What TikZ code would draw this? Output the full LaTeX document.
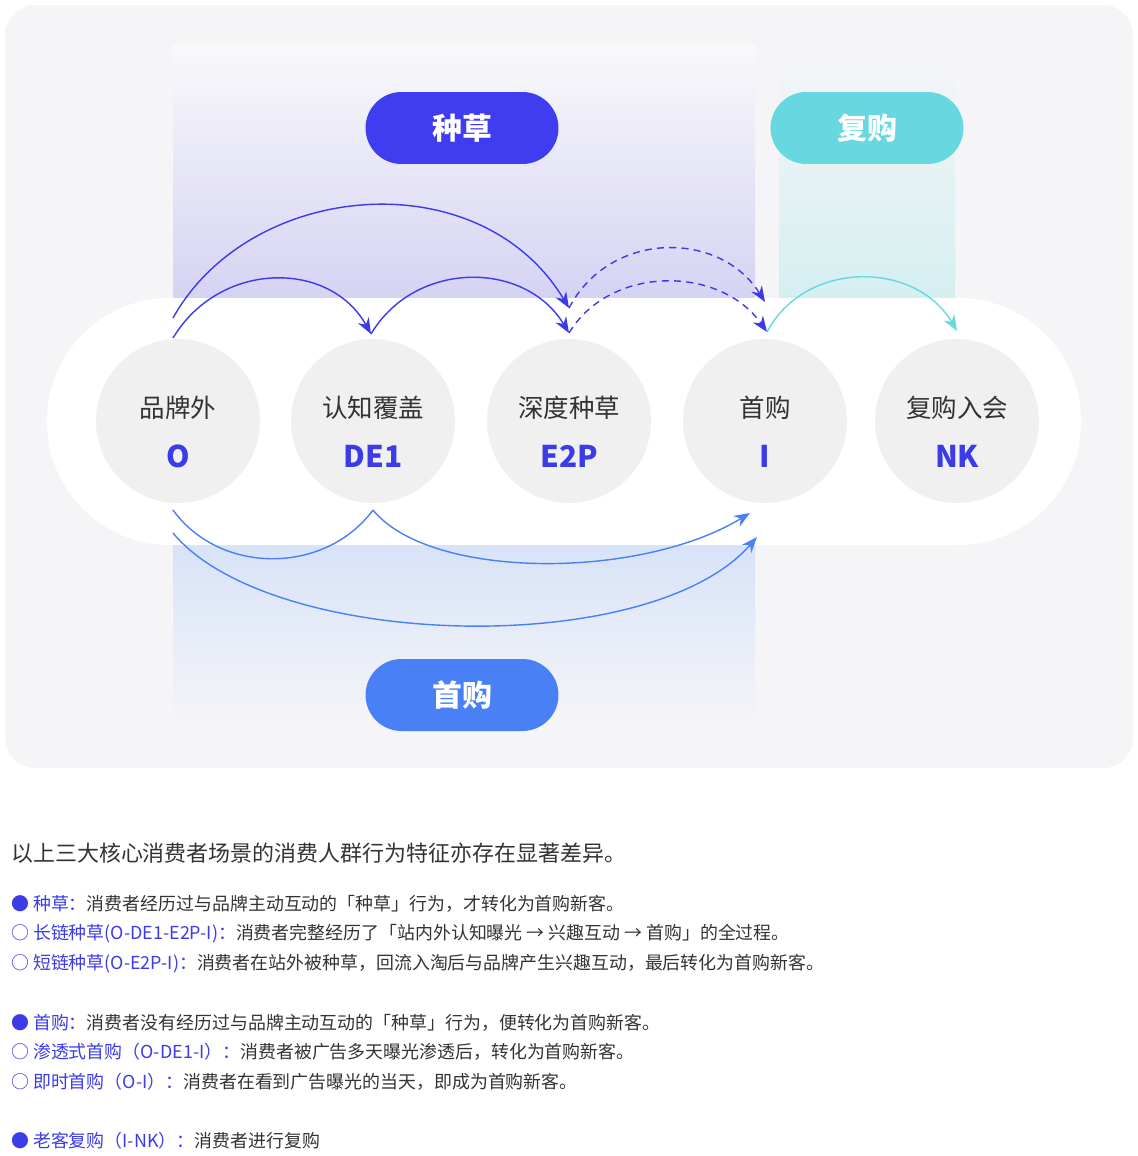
\documentclass[tikz,border=0pt]{standalone}
\usepackage{fontspec}
\setmainfont{Noto Sans CJK SC}
\usetikzlibrary{positioning, arrows.meta}
\definecolor{panelgrey}{HTML}{F5F5F7}
\definecolor{stagegrey}{HTML}{F0F0F0}
\definecolor{seedblue}{HTML}{3F3DEF}
\definecolor{buyblue}{HTML}{4A80F5}
\definecolor{rebuyteal}{HTML}{67D8E0}
\definecolor{codeblue}{HTML}{3B3BE8}
\definecolor{bodytext}{HTML}{333333}
\begin{document}
\begin{tikzpicture}[
    x=0.02cm, y=-0.02cm, >={Stealth[length=9pt,width=7pt]},
    % stage circles
    stage/.style={circle, fill=stagegrey, minimum size=3.28cm, inner sep=0pt},
    stage name/.style={font=\fontsize{14.5}{16}\selectfont, text=bodytext},
    stage code/.style={font=\fontsize{17}{18}\selectfont\bfseries, text=codeblue},
    % phase pills
    phase pill/.style={rounded corners=0.72cm, minimum width=3.86cm, minimum height=1.44cm,
        text=white, font=\fontsize{17}{18}\selectfont\bfseries},
    % arcs
    seed arc/.style={->, draw=codeblue, line width=0.8pt},
    seed dash/.style={seed arc, dash pattern=on 4pt off 3pt},
    buy arc/.style={->, draw=buyblue, line width=0.8pt},
    rebuy arc/.style={->, draw=rebuyteal, line width=0.8pt},
    % legend text
    intro/.style={anchor=west, font=\fontsize{12.5}{14}\selectfont, text=bodytext},
    legend/.style={anchor=west, font=\fontsize{10.2}{12}\selectfont, text=bodytext},
    key/.style={text=codeblue}
]
\useasboundingbox (0,0) rectangle (1138,1156);

% panel and bands
\fill[panelgrey, rounded corners=0.6cm] (5,5) rectangle (1133,768);
\shade[top color=panelgrey!60!white, bottom color={rgb,255:red,213;green,211;blue,243}] (173,45) rectangle (755,298);
\shade[top color=panelgrey, bottom color={rgb,255:red,213;green,239;blue,240}] (779,55) rectangle (955,298);
\shade[top color={rgb,255:red,216;green,227;blue,248}, bottom color=panelgrey] (173,545) rectangle (755,725);
\fill[white, rounded corners=2.46cm] (47,298) rectangle (1081,545);

% stages
\foreach \n/\x/\name/\code in {o/178/品牌外/O, de/373/认知覆盖/DE1, ep/569/深度种草/E2P, i/765/首购/I, nk/957/复购入会/NK}
{
    \node[stage] (\n) at (\x,421) {};
    \node[stage name] (\n-name) at (\x,408) {\name};
    \node[stage code] (\n-code) at (\x,456) {\code};
}

% phase pills
\node[phase pill, fill=seedblue] (seed) at (462,128) {种草};
\node[phase pill, fill=rebuyteal] (rebuy) at (867,128) {复购};
\node[phase pill, fill=buyblue] (buy) at (462,695) {首购};

% arc ends
\coordinate (o-top1) at (173,318);
\coordinate (o-top2) at (173,338);
\coordinate (de-top) at (371,334);
\coordinate (ep-top1) at (569,308);
\coordinate (ep-top2) at (569,333);
\coordinate (i-top1) at (765,302);
\coordinate (i-top2) at (767,332);
\coordinate (nk-top) at (957,331);
\coordinate (o-bot1) at (173,510);
\coordinate (o-bot2) at (173,533);
\coordinate (de-bot) at (373,510);
\coordinate (i-bot1) at (750,513);
\coordinate (i-bot2) at (757,537);

% top arcs
\draw[seed arc] (o-top1) .. controls (250,180) and (480,160) .. (ep-top1);
\draw[seed arc] (o-top2) .. controls (220,260) and (330,260) .. (de-top);
\draw[seed arc] (de-top) .. controls (415,260) and (525,260) .. (ep-top2);
\draw[seed dash] (ep-top1) .. controls (610,230) and (720,230) .. (i-top1);
\draw[seed dash] (ep-top2) .. controls (610,265) and (720,265) .. (i-top2);
\draw[rebuy arc] (i-top2) .. controls (805,260) and (915,260) .. (nk-top);

% bottom arcs
\draw[buy arc, -] (o-bot1) .. controls (220,575) and (325,575) .. (de-bot);
\draw[buy arc] (de-bot) .. controls (430,580) and (640,580) .. (i-bot1);
\draw[buy arc] (o-bot2) .. controls (270,650) and (650,660) .. (i-bot2);

% description
\node[intro] (t0) at (5,853) {以上三大核心消费者场景的消费人群行为特征亦存在显著差异。};
\node[legend] (t1) at (5,904) {{\color{codeblue}●} {\color{codeblue}种草：}消费者经历过与品牌主动互动的「种草」行为，才转化为首购新客。};
\node[legend] (t2) at (5,934) {{\color{codeblue}○} {\color{codeblue}长链种草(O-DE1-E2P-I)：}消费者完整经历了「站内外认知曝光 → 兴趣互动 → 首购」的全过程。};
\node[legend] (t3) at (5,964) {{\color{codeblue}○} {\color{codeblue}短链种草(O-E2P-I)：}消费者在站外被种草，回流入淘后与品牌产生兴趣互动，最后转化为首购新客。};
\node[legend] (t4) at (5,1023) {{\color{codeblue}●} {\color{codeblue}首购：}消费者没有经历过与品牌主动互动的「种草」行为，便转化为首购新客。};
\node[legend] (t5) at (5,1052) {{\color{codeblue}○} {\color{codeblue}渗透式首购（O-DE1-I）：}消费者被广告多天曝光渗透后，转化为首购新客。};
\node[legend] (t6) at (5,1082) {{\color{codeblue}○} {\color{codeblue}即时首购（O-I）：}消费者在看到广告曝光的当天，即成为首购新客。};
\node[legend] (t7) at (5,1141) {{\color{codeblue}●} {\color{codeblue}老客复购（I-NK）：}消费者进行复购};
\end{tikzpicture}
\end{document}
